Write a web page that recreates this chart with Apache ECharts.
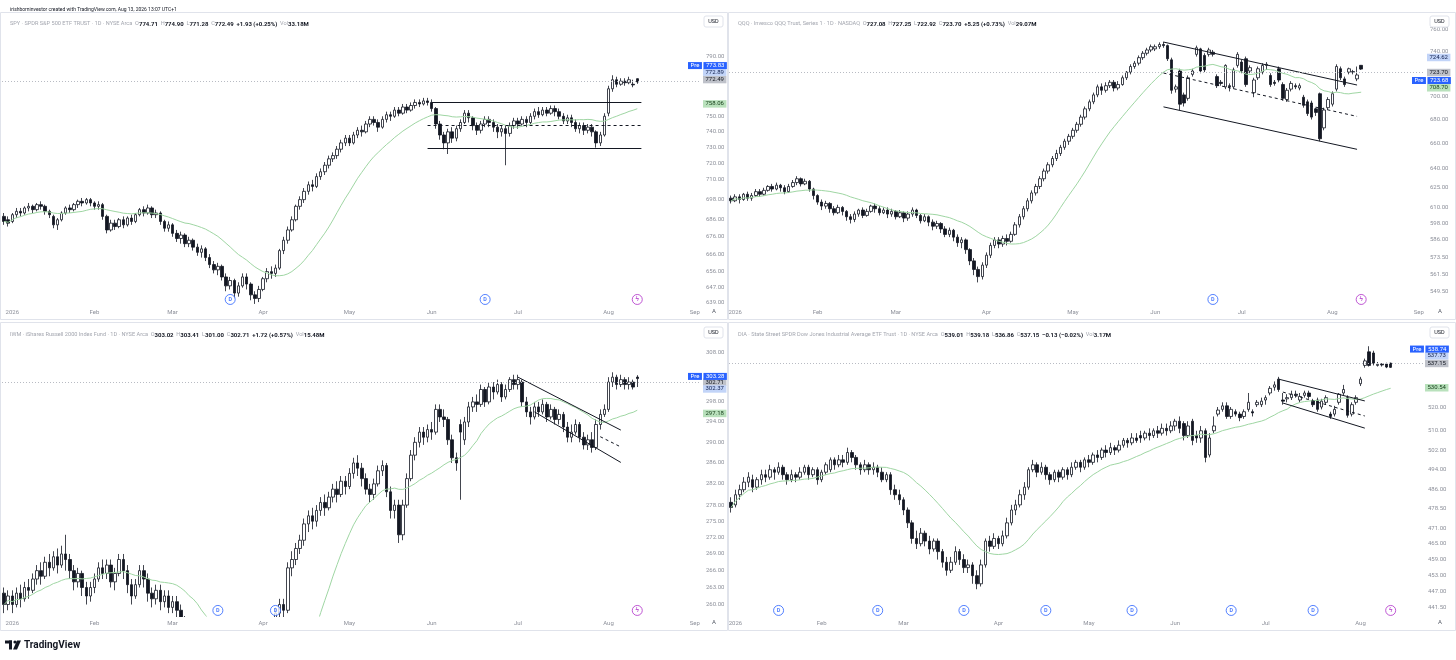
<!DOCTYPE html>
<html>
<head>
<meta charset="utf-8">
<title>SPY QQQ IWM DIA</title>
<script src="https://cdn.jsdelivr.net/npm/echarts@6/dist/echarts.min.js"></script>
<style>
html,body{margin:0;padding:0;background:#fff;}
#main{width:1456px;height:660px;}
</style>
</head>
<body>
<div id="main"></div>
<script>
// candles are [open, close, low, high], one row per trading day
var spyCandles = [
  [688,685,683,690],[686,684,682,688],
  [685,689,684,690],[689,691,687,693],[691,690,688,693],[690,693,689,694],[693,694,691,696],[694,692,690,695],[692,695,691,696],[695,694,692,697],[694,691,689,695],[691,689,687,692],
  [688,683,681,689],[683,686,680,687],[686,690,685,691],[690,693,689,694],[693,692,690,695],[692,695,691,696],[695,697,693,698],[697,696,694,699],[696,698,695,699],[698,696,694,699],
  [696,694,692,697],[694,695,692,697],[695,688,686,696],[688,680,678,689],[680,684,679,686],[684,682,680,686],[682,686,681,687],[686,683,681,688],[683,687,682,688],[687,685,683,689],
  [685,689,684,690],[689,692,688,693],[692,690,688,694],[690,693,689,695],[693,689,687,694],[689,690,687,692],[690,685,683,691],[685,681,679,686],[681,683,679,685],
  [683,678,676,684],[678,675,673,680],[675,677,672,679],[677,672,670,678],[672,674,670,676],[674,670,668,675],[670,667,665,672],[667,669,664,671],[669,664,662,670],[664,660,658,666],[660,657,655,662],
  [657,659,654,661],[659,653,651,660],[653,648,645,655],[648,651,646,653],[651,644,641,652],[644,648,642,650],[648,653,647,655],[653,649,646,655],[649,643,640,650],[643,641,638,645],[641,646,639,648],
  [646,652,645,653],[652,656,650,658],[656,655,652,659],[655,658,653,660],[658,668,657,669],[668,674,666,676],[674,680,672,682],[680,686,679,688],[686,694,685,695],[694,698,692,700],[698,703,696,705],
  [703,707,701,709],[707,706,703,710],[706,712,705,714],[712,715,710,717],[715,719,713,721],[719,723,717,725],[723,725,721,727],[725,729,723,731],[729,733,727,735],[733,736,731,738],
  [736,733,731,738],[733,738,732,740],[738,741,736,743],[741,740,737,744],[740,745,739,747],[745,748,743,750],[748,746,744,750],[746,743,740,748],[743,748,742,750],[748,751,746,753],
  [751,750,747,753],[750,754,749,756],[754,752,750,756],[752,756,751,758],[756,754,752,758],[754,757,753,759],[757,759,755,761],[759,758,756,761],[758,760,757,762],[760,759,757,762],
  [759,755,753,761],[755,745,742,756],[745,738,735,747],[738,733,729,740],[733,740,726,742],[740,736,733,743],[736,742,734,744],[742,746,740,748],[746,752,745,754],[752,749,746,754],
  [749,744,741,750],[744,741,738,746],[741,745,739,747],[745,748,743,750],[748,746,743,750],[746,743,740,748],[743,740,736,745],[740,742,737,744],[742,739,719,744],[739,744,737,746],[744,747,742,749],
  [747,745,742,749],[745,748,744,750],[748,746,743,750],[746,750,745,752],[750,753,748,755],[753,751,749,756],[751,754,750,756],[754,752,750,756],[752,755,751,757],[755,753,750,757],[753,750,748,755],
  [750,747,745,752],[747,749,745,751],[749,746,743,751],[746,742,740,748],[742,744,739,746],[744,741,738,746],[741,743,739,745],[743,740,737,745],[740,733,730,741],[733,738,731,740],[738,750,737,752],
  [752,768,750,770],[768,774,766,777],[774,771,769,776],[771,773,770,775],[773,772,770,775],[772,774,771,776],[771,770.56,769,774],[774.71,772.49,771.28,774.90]
];

var qqqCandles = [
  [617,615,613,619],
  [615,618,614,620],[618,616,613,620],[616,620,615,621],[620,617,615,622],[617,619,615,621],[619,622,618,624],[622,620,618,624],[620,623,619,625],[623,626,622,627],[626,624,622,628],
  [624,627,623,629],[627,625,622,628],[625,622,620,627],[622,626,621,628],[626,629,625,631],[629,632,627,634],[632,628,626,633],[628,630,627,632],[630,624,622,631],[624,619,616,625],
  [619,614,612,620],[614,611,608,616],[611,613,609,615],[613,609,606,614],[609,606,604,611],[606,610,605,612],[610,607,604,611],[607,603,600,608],[603,601,598,605],[601,605,599,607],
  [605,608,603,609],[608,604,602,610],[604,607,603,609],[607,611,606,612],[611,609,606,613],[609,606,604,611],[606,608,605,610],[608,605,602,610],[605,607,603,609],
  [607,603,601,608],[603,606,602,608],[606,602,599,607],[602,605,600,607],[605,608,603,610],[608,604,602,609],[604,600,598,605],[600,603,599,605],[603,599,596,604],[599,596,593,601],[596,598,594,600],
  [598,594,591,599],[594,590,588,596],[590,593,588,595],[593,588,585,594],[588,584,581,590],[584,586,580,588],[586,579,576,587],[579,571,568,580],[571,565,561,573],[565,560,556,567],[560,568,558,570],
  [568,575,566,577],[575,582,573,584],[582,586,580,588],[586,583,580,588],[583,587,581,589],[587,585,582,590],[585,590,584,592],[590,597,589,599],[597,603,595,605],[603,609,601,611],[609,615,607,617],
  [615,621,613,623],[621,626,619,628],[626,632,624,634],[632,638,630,640],[638,643,636,645],[643,648,641,650],[648,652,646,655],[652,657,650,659],[657,662,655,664],[662,666,659,668],
  [666,671,664,673],[671,676,669,678],[676,682,674,684],[682,689,680,691],[689,695,687,697],[695,701,693,703],[701,708,699,710],[708,705,701,711],[705,709,703,712],[709,712,707,714],
  [712,707,704,714],[707,710,705,713],[710,716,709,718],[716,721,714,722],[721,726,719,728],[726,729,724,731],[729,734,727,736],[734,738,732,740],[738,741,736,743],[741,744,739,746],
  [742,744,740,746],[744,746,742,748],[746,745,743,748.5],[745,733,731,746],[732,705,702,734],[706,708,703,710],[722,693,688,724],[701,694,691,703],[698,716,696,718],[719,722,717,724],
  [737,743,735,745],[742,722,720,743],[736,723,721,738],[737,741,735,743],[739,737,735,741],[717,709,707,719],[712,711,709,714],[708,727,706,728],[709,708,704,711],[708,723,706,725],[727,737,725,739],
  [730,722,720,732],[733,710,708,735],[722,725,720,727],[703,714,699,716],[716,724,714,726],[721,727,719,729],[727,728,723,730],[718,710,708,720],[712,711,709,714],[724,714,712,726],[710,698,696,712],
  [697,705,695,707],[706,711,704,713],[709,708,706,711],[707,709,705,711],[699,692,690,701],[695,685,683,697],[694,682,680,696],[689,686,683,690],[702,664,662,703],[673,688,671,690],[690,697,688,699],
  [693,702,691,704],[706,726,704,728],[724,716,714,726],[715,710,708,717],[721,724,719,725],[721,721.5,719,723],[715,718.45,713,726],[727.08,723.70,722.92,727.25]
];

var iwmCandles = [
  [262,260,258.5,263],[260,261.5,259,262.5],
  [261.5,260,258.5,262.5],[260,262,259.5,263],[262,261,259.5,263.5],[261,263,260.5,264],[263,262.5,261,264.5],[262.5,264.5,262,265.5],[264.5,266,263.5,267],[266,265,263.5,267.5],[265,267.5,264.5,268.5],[267.5,266.5,265,269],
  [266.5,268.5,266,269.5],[268.5,267,265.5,270],[267,269,266.5,270.5],[269,268,266,272.5],[268,266,264.5,269],[266,264,262.5,267],[264,265.5,263,266.5],[265.5,263,261.5,266],[263,261.5,260,264],[261.5,263,260.5,264],
  [263,264.5,262,265.5],[264.5,266.5,264,267.5],[266.5,265.5,264.5,268],[265.5,267,264.5,268],[267,264,263,268],[264,265.5,262.5,266.5],[265.5,268,265,269],[268,266,264.5,269],[266,263.5,262,267],[263.5,261.5,260,264.5],
  [261.5,263.5,261,264.5],[263.5,266,263,267],[266,264.5,263,267],[264.5,262,260.5,265.5],[262,261,259.5,263],[261,262.5,260,263.5],[262.5,260.5,259,263.5],[260.5,261.5,259.5,262.5],[261.5,259.5,258.5,262.5],
  [259.5,260.5,258.5,261.5],[260.5,259,257.5,261.5],[259,257,255.5,260],[257,254,252,258],[254,251,249,255],[251,252.5,249.5,254],[252.5,249,247,253.5],[249,246,244,250],[246,247.5,244.5,249],[247.5,244,242,248.5],[244,241,239,245],
  [241,243,239.5,244.5],[243,239,237,244],[239,236,234,240],[236,238,234.5,239.5],[238,235,233,239],[235,232,230,236],[232,235,231,236.5],[235,238,234,239.5],[238,236,234.5,239.5],[236,239,235,240.5],[239,242,238,243.5],
  [242,245,241,246.5],[245,249,244,250.5],[249,253,248,254.5],[253,258.5,252,259.5],[258.5,260,257,261],[260,259,257.5,261],[259,266.5,258.5,267.5],[266.5,268,265,269.5],[268,270,267,271],[270,271.5,269,272.5],[271.5,274.5,270.5,275.5],
  [274.5,276,273,277],[276,275,273.5,277.5],[275,277,274,278],[277,278.5,276,279.5],[278.5,277.5,276,280],[277.5,279.5,277,280.5],[279.5,281,278.5,282],[281,280,278.5,282.5],[280,282.5,279.5,283.5],[282.5,281.5,280,283.5],
  [281.5,284,281,285],[284,286,283,287],[286,285,283.5,287.5],[285,283,281.5,286],[283,281,280,284],[281,280,278.5,282],[280,282,279,283],[282,284.5,281.5,285.5],[284.5,285.5,283.5,286.5],[285.5,280.5,279.5,286],
  [280.5,277,275.5,281.5],[277,278,275.5,279],[278,272.5,271,279],[272.5,278,271.5,279],[278,283,277.5,284],[283,287.5,282.5,288.5],[287.5,290,286.5,291],[290,292,289,293],[292,291,289.5,293],[291,292.5,290,293.5],
  [292.5,292,290.5,294],[292,296.5,291.5,297.5],[296.5,295,294,297.5],[295,294.5,293,296.5],[294.5,290.5,289.5,295],[290.5,287,286,291.5],[287,286,284.5,288],[293.5,292,279,294.5],[290.5,294,289.5,295],[294,297,293,298],
  [297,298,296,299],[298,297.5,296,299.5],[297.5,300.5,297,301.5],[300.5,298,297,301],[298,301,297.5,302],[301,300,298.5,302],[300,301.5,299.5,302.5],[301.5,299,298,302],[299,300.5,298.5,301.5],[300.5,302.5,300,303],[302.5,301.5,300.5,303.5],
  [301.5,302.5,300.5,303.5],[302,298,297,302.5],[298,296,295,299],[296,295,293.5,297],[295,297,294.5,298],[297,296,295,298],[296,297.5,295.5,298.5],[297.5,295,294,298],[295,296.5,294.5,297.5],[296.5,294.5,293.5,297],[294.5,295.5,293.5,296.5],
  [295.5,293,292,296],[293,291,290,294],[291,292,290,293.5],[292,293.5,291.5,294.5],[293.5,291,290,294],[291,289.5,288.6,292],[289.5,290.5,288.5,291.5],[290.5,289,288,292],[289,293.5,288.5,294.5],[293.5,295.5,292.5,296.5],[295.5,296.5,295,297.5],
  [296.5,302,296,303],[302,303,301,304],[303,301.5,300.5,303.5],[301.5,302.5,301,303.5],[302.5,301.5,300.5,303],[301.5,302,300.5,303],[302,300.99,300.5,302.5],[303.02,302.71,301.00,303.41]
];

var diaCandles = [
  [481,479,477,483],
  [480,484,479,486],[484,486,482,488],[486,489,485,491],[489,491,487,493],[490,487,485,492],[487,490,486,491],[490,492,488,494],[492,491,489,494],[491,494,490,496],[494,493,490,495],
  [493,495,492,497],[495,492,490,496],[492,490,488,493],[490,492,489,494],[492,491,489,493],[491,493,490,495],[493,495,492,496],[495,492,490,496],[492,494,491,495],[494,490,488,495],
  [490,493,489,494],[493,496,492,497],[494,498,493,499],[498,496,494,499],[496,498,495,500],[498,497,495,500],[497,501,496,503],[501,499,497,502],[499,496,494,500],[496,494,492,497],
  [494,496,493,498],[496,494,492,497],[494,495,492,497],[495,493,491,496],[493,490,489,495],[490,492,489,493],[492,486,484,493],[486,484,482,488],[484,482,480,486],
  [482,478,476,483],[478,473,471,479],[473,467,465,474],[467,465,463,470],[465,469,464,471],[469,466,464,470],[466,463,461,468],[463,466,462,467],[466,462,459,467],[462,458,456,463],[458,455,453,460],
  [455,458,454,460],[458,462,457,464],[462,459,457,463],[459,456,454,461],[456,457,454,459],[457,453,450,458],[453,450,448,455],[450,457,449,459],[457,466,456,467],[466,464,462,468],[464,467,463,469],
  [467,465,463,468],[465,468,464,470],[468,473,467,475],[473,478,472,480],[478,480,476,482],[480,484,479,486],[484,487,482,489],[487,494,486,495],[494,496,493,498],[496,493,491,497],[493,495,492,497],
  [495,492,490,496],[492,490,488,493],[490,493,489,494],[493,491,489,494],[491,494,490,495],[494,492,490,495],[492,495,491,497],[495,497,494,498],[497,495,493,498],[495,498,494,499],
  [498,497,495,500],[497,500,496,501],[500,499,497,502],[499,502,498,503],[502,501,499,504],[501,503,500,505],[503,502,500,504],[502,504,501,506],[504,506,503,507],[506,505,503,507],
  [505,507,504,509],[507,506,505,509],[508,507,505,510],[507,509,506,510],[509,508,506,511],[508,510,507,511],[510,509,507,512],[509,511,508,513],[511,510,508,513],[510,512,509,514],
  [512,514,510,515],[514,511,509,516],[513,508,506,514],[508,512,507,514],[514,506,504,515],[508,507,505,510],[507,510,505,512],[510,499,497,511],[500,507,499,509],[510,512,509,516],
  [517,518.7,516,520],[519,520.5,518,522],[520.5,516,515,522],[516,519,515,520],[518,517,516,519],[517,515.5,514,518],[516,518,515,519],[519,522,518,526],[518,517.5,516,519],[521,522,520,523],[521,522.5,520,524],
  [523,524,521,525],[526,528,525,529],[528.5,529.5,527,531],[532,527.5,526.5,533],[523,522.5,521,526],[523.5,524,522,525.5],[524,525.5,523,527],[525.5,525,524,527],[523,524.5,522,526],[525,526,524,527],[526,524.5,523.5,527],
  [522.5,521,520,523.5],[523,519,518,524],[520,522.5,519,523.5],[522,524,521,525],[517,516,515,518],[517,519,516,520.5],[522,525.5,521,526],[526,527.5,525,529.5],[524,516.5,515.5,525],[517,521,516,522],[522,524,521,525],
  [530,532,529,533],[538,540,537,541],[544,538,537.5,546.5],[543.5,539,538,544.5],[538,538.5,537.5,539.5],[538.5,538.2,537.5,539],[538.6,537.28,536.8,539.2],[539.01,537.15,536.86,539.18]
];

// price scale ticks shown on each panel
var spyTicks = [790, 750, 740, 730, 720, 710, 698, 686, 676, 666, 656, 647, 639];
var qqqTicks = [760, 740, 700, 680, 660, 640, 625, 610, 598, 586, 573.5, 561.5, 549.5];
var iwmTicks = [308, 298, 294, 290, 286, 282, 278, 275, 272, 269, 266, 263, 260];
var diaTicks = [520, 510, 502, 494, 486, 478.5, 471, 465, 459, 453, 447, 441.5];

// price scale tags: moving average, last close, post-market, pre-market
var spyTags = {ma: 758.06, last: 772.49, post: 772.89, pre: 773.83};
var qqqTags = {ma: 708.70, last: 723.70, post: 724.62, pre: 723.68};
var iwmTags = {ma: 297.18, last: 302.71, post: 302.37, pre: 303.28};
var diaTags = {ma: 530.54, last: 537.15, post: 537.73, pre: 538.74};

// drawn lines [barIndex1, price1, barIndex2, price2]
var spyLines = [[104, 759.3, 155, 759.3], [103, 729.8, 155, 729.8]];
var spyMids = [[103, 744.5, 155, 744.5]];
var qqqLines = [[105, 748.3, 152, 709.6], [105, 690.7, 152, 655.4]];
var qqqMids = [[105, 720.2, 152, 682.6]];
var iwmLines = [[125, 303.0, 150, 292.4], [129, 296.0, 150, 286.1]];
var iwmMids = [[145, 291.1, 150, 289.1]];
var diaLines = [[127, 532.0, 147, 522.6], [128, 521.7, 147, 511.1]];
var diaMids = [[128, 526.4, 147, 516.2]];

// event markers (bar index)
var spyDivs = [55, 117];   var spyFlash = [154];
var qqqDivs = [117];       var qqqFlash = [153];
var iwmDivs = [52, 66];    var iwmFlash = [154];
var diaDivs = [11, 34, 54, 73, 93, 116, 135]; var diaFlash = [153];

var spyHeader = ['SPY · SPDR S&P 500 ETF TRUST · 1D · NYSE Arca', '774.71', '774.90', '771.28', '772.49', '+1.93 (+0.25%)', '33.18M'];
var qqqHeader = ['QQQ · Invesco QQQ Trust, Series 1 · 1D · NASDAQ', '727.08', '727.25', '722.92', '723.70', '+5.25 (+0.73%)', '29.07M'];
var iwmHeader = ['IWM · iShares Russell 2000 Index Fund · 1D · NYSE Arca', '303.02', '303.41', '301.00', '302.71', '+1.72 (+0.57%)', '15.48M'];
var diaHeader = ['DIA · State Street SPDR Dow Jones Industrial Average ETF Trust · 1D · NYSE Arca', '539.01', '539.18', '536.86', '537.15', '−0.13 (−0.02%)', '3.17M'];

var holidays = ['2026-01-01','2026-01-19','2026-02-16','2026-04-03','2026-05-25','2026-06-19','2026-07-03','2026-09-07'];
var monthNames = ['2026','Feb','Mar','Apr','May','Jun','Jul','Aug','Sep','Oct','Nov','Dec'];

function tradingDays(start, count){
  var out = [];
  var d = new Date(start + 'T12:00:00Z');
  while(out.length < count){
    var wd = d.getUTCDay();
    var s = d.toISOString().slice(0, 10);
    if(wd !== 0 && wd !== 6 && holidays.indexOf(s) < 0){
      out.push(s);
    }
    d.setUTCDate(d.getUTCDate() + 1);
  }
  return out;
}

function sma(rows, n){
  var out = [];
  for(var i = 0; i < rows.length; i++){
    var s = 0, k = 0;
    for(var j = Math.max(0, i - n + 1); j <= i; j++){ s += rows[j][1]; k++; }
    out.push(Math.log(s / k));
  }
  return out;
}

var ln = Math.log;
var axisGrey = '#8d909a';
var font = 'Roboto, "Liberation Sans", sans-serif';
var tagStyle = {
  pre:  {bg:'#2962ff', fg:'#ffffff'},
  post: {bg:'#c2d4f8', fg:'#0f1f4d'},
  last: {bg:'#bfc2ca', fg:'#131722'},
  ma:   {bg:'#b9e1bc', fg:'#143d18'}
};
var tagPad = [0.5, 2.5, 0.5, 2.5];

// slot (px) where each price tag sits once stacked on the price scale
var panels = [
  {candles: spyCandles, ticks: spyTicks, tags: spyTags, lines: spyLines, mids: spyMids, divs: spyDivs, flash: spyFlash, header: spyHeader,
   start: '2025-12-30', slots: 170, range: [637.4, 809.3],
   grid: {left: 2, top: 28, width: 699, height: 277}, head: [5, 16],
   tagY: {pre: 64, post: 72, last: 80, ma: 103}},
  {candles: qqqCandles, ticks: qqqTicks, tags: qqqTags, lines: qqqLines, mids: qqqMids, divs: qqqDivs, flash: qqqFlash, header: qqqHeader,
   start: '2025-12-31', slots: 169, range: [540.7, 761.4],
   grid: {left: 729, top: 28, width: 696, height: 277}, head: [733, 16],
   tagY: {post: 61, last: 69, pre: 77, ma: 85}},
  {candles: iwmCandles, ticks: iwmTicks, tags: iwmTags, lines: iwmLines, mids: iwmMids, divs: iwmDivs, flash: iwmFlash, header: iwmHeader,
   start: '2025-12-30', slots: 170, range: [258.0, 311.1],
   grid: {left: 2, top: 338, width: 699, height: 278}, head: [5, 327],
   tagY: {pre: 369.5, last: 378, post: 386.5, ma: 407}},
  {candles: diaCandles, ticks: diaTicks, tags: diaTags, lines: diaLines, mids: diaMids, divs: diaDivs, flash: diaFlash, header: diaHeader,
   start: '2025-12-31', slots: 161, range: [438.3, 550.2],
   grid: {left: 729, top: 338, width: 694, height: 278}, head: [733, 327],
   tagY: {pre: 350, post: 359, last: 368, ma: 383}}
];

function buildOption(pixelOf){
  var grids = [], xAxes = [], yAxes = [], series = [], titles = [];

  titles.push({
    text: 'irishborninvestor created with TradingView.com, Aug 13, 2026 13:07 UTC+1',
    left: 5, top: 2,
    textStyle: {fontSize: 5.0, color: '#131722', fontWeight: 'normal', fontFamily: font}
  });

  panels.forEach(function(p, k){
    var dates = tradingDays(p.start, p.slots);
    var monthStart = dates.map(function(d, i){
      return i > 0 && d.slice(5, 7) !== dates[i - 1].slice(5, 7);
    });

    grids.push(p.grid);

    xAxes.push({
      type: 'category', gridIndex: k, data: dates, boundaryGap: true, z: 10,
      axisLine: {show: false}, axisTick: {show: false}, splitLine: {show: false},
      axisLabel: {
        color: axisGrey, fontSize: 6, fontFamily: font, margin: 4,
        interval: function(i){ return monthStart[i]; },
        formatter: function(v){ return monthNames[parseInt(v.slice(5, 7), 10) - 1]; }
      }
    });

    yAxes.push({
      type: 'value', gridIndex: k, position: 'right',
      min: ln(p.range[0]), max: ln(p.range[1]),
      axisLine: {show: false}, axisTick: {show: false}, splitLine: {show: false},
      axisLabel: {
        customValues: p.ticks.map(ln), color: axisGrey, fontSize: 6, fontFamily: font, margin: 5,
        formatter: function(v){ return Math.exp(v).toFixed(2); }
      }
    });
    yAxes.push({type: 'value', gridIndex: k, min: 0, max: 1, show: false});

    var marks = [];
    p.lines.forEach(function(l){
      marks.push([{coord: [l[0], ln(l[1])], lineStyle: {color: '#131722', width: 1, type: 'solid'}}, {coord: [l[2], ln(l[3])]}]);
    });
    p.mids.forEach(function(l){
      marks.push([{coord: [l[0], ln(l[1])], lineStyle: {color: '#131722', width: 1, type: [3, 3]}}, {coord: [l[2], ln(l[3])]}]);
    });
    Object.keys(p.tags).forEach(function(key){
      var v = p.tags[key], st = tagStyle[key];
      var dy = pixelOf ? p.tagY[key] - pixelOf(k, v) : 0;
      if(!isFinite(dy)) dy = 0;
      var item = {
        yAxis: ln(v),
        lineStyle: key === 'pre' ? {color: '#b8bbc3', width: 1, type: [1, 2]} : {color: 'rgba(0,0,0,0)', width: 0.1},
        label: {
          show: true, position: 'end', distance: 2, opacity: 1,
          offset: [key === 'pre' ? -15 : 0, dy],
          fontSize: 6, lineHeight: 6.5, fontFamily: font, color: st.fg
        }
      };
      if(key === 'pre'){
        item.label.formatter = '{p|Pre}{s| }{v|' + v.toFixed(2) + '}';
        item.label.rich = {
          p: {backgroundColor: st.bg, color: st.fg, padding: tagPad, fontSize: 6, lineHeight: 6.5, fontFamily: font},
          s: {fontSize: 6, lineHeight: 6.5, width: 1.5},
          v: {backgroundColor: st.bg, color: st.fg, padding: tagPad, fontSize: 6, lineHeight: 6.5, fontFamily: font}
        };
      } else {
        item.label.formatter = v.toFixed(2);
        item.label.backgroundColor = st.bg;
        item.label.padding = tagPad;
      }
      marks.push(item);
    });

    series.push({
      type: 'candlestick', xAxisIndex: k, yAxisIndex: 2 * k,
      data: p.candles.map(function(r){ return r.map(ln); }),
      barWidth: 3, clip: true,
      itemStyle: {color: '#ffffff', color0: '#131722', borderColor: '#131722', borderColor0: '#131722', borderWidth: 0.8},
      markLine: {silent: true, symbol: ['none', 'none'], animation: false, label: {show: false}, data: marks}
    });

    series.push({
      type: 'line', xAxisIndex: k, yAxisIndex: 2 * k,
      data: sma(p.candles, 20), showSymbol: false, clip: true, silent: true,
      lineStyle: {color: '#9fd6a3', width: 1}
    });

    var ev = [];
    p.divs.forEach(function(i){ ev.push({value: [i, 0.02], kind: 'D'}); });
    p.flash.forEach(function(i){ ev.push({value: [i, 0.02], kind: 'F'}); });
    series.push({
      type: 'scatter', xAxisIndex: k, yAxisIndex: 2 * k + 1, silent: true, z: 6,
      symbol: 'circle', symbolSize: 10,
      data: ev.map(function(e){
        var c = e.kind === 'D' ? '#2962ff' : '#b02fc9';
        return {
          value: e.value,
          itemStyle: {color: '#ffffff', borderColor: c, borderWidth: 1},
          label: {show: true, position: 'inside', formatter: e.kind === 'D' ? 'D' : 'ϟ', color: c, fontSize: e.kind === 'D' ? 5.5 : 6.5, fontWeight: 'bold', fontFamily: font}
        };
      })
    });

    var h = p.header;
    titles.push({
      text: '{g|' + h[0] + '}  {g|O}{v|' + h[1] + '}  {g|H}{v|' + h[2] + '}  {g|L}{v|' + h[3] + '}  {g|C}{v|' + h[4] + '}  {v|' + h[5] + '}  {g|Vol}{v|' + h[6] + '}',
      left: p.head[0], top: p.head[1],
      textStyle: {
        fontSize: 5.6, fontFamily: font, color: '#a3a6af', fontWeight: 'normal',
        rich: {
          g: {fontSize: 5.6, color: '#a3a6af', fontFamily: font},
          v: {fontSize: 6, color: '#131722', fontFamily: font, fontWeight: 'bold'}
        }
      }
    });
  });

  // cover strips under the plots, panel frames, currency boxes and footer
  var graphic = [];
  [[1, 306, 700, 12], [729, 306, 697, 12], [1, 617, 700, 43], [729, 617, 695, 12]].forEach(function(r){
    graphic.push({type: 'rect', z: 5, shape: {x: r[0], y: r[1], width: r[2], height: r[3]}, style: {fill: '#ffffff'}, silent: true});
  });
  [[0.5, 12.5, 727, 307], [728.5, 12.5, 727, 307], [0.5, 322.5, 727, 308], [728.5, 322.5, 727, 308]].forEach(function(r){
    graphic.push({type: 'rect', z: 5, shape: {x: r[0], y: r[1], width: r[2], height: r[3]}, style: {fill: 'none', stroke: '#e0e3eb', lineWidth: 1}, silent: true});
  });
  [[704, 16], [1430, 16], [704, 327], [1430, 327]].forEach(function(b){
    graphic.push({type: 'rect', z: 5, shape: {x: b[0], y: b[1], width: 19, height: 11, r: 2}, style: {fill: '#fff', stroke: '#e0e3eb', lineWidth: 1}, silent: true});
    graphic.push({type: 'text', z: 6, x: b[0] + 9.5, y: b[1] + 5.5, style: {text: 'USD', fill: '#131722', font: '5.5px Roboto', align: 'center', verticalAlign: 'middle'}, silent: true});
  });
  [[714, 311], [1440, 311], [714, 622], [1440, 622]].forEach(function(a){
    graphic.push({type: 'text', z: 6, x: a[0], y: a[1], style: {text: 'A', fill: '#555a66', font: '6px Roboto', align: 'center', verticalAlign: 'middle'}, silent: true});
  });
  graphic.push({type: 'rect', z: 7, shape: {x: 5, y: 640.5, width: 7, height: 3}, style: {fill: '#131722'}, silent: true});
  graphic.push({type: 'rect', z: 7, shape: {x: 9, y: 640.5, width: 3, height: 9}, style: {fill: '#131722'}, silent: true});
  graphic.push({type: 'circle', z: 7, shape: {cx: 15, cy: 642, r: 1.6}, style: {fill: '#131722'}, silent: true});
  graphic.push({type: 'polygon', z: 7, shape: {points: [[13, 649.5], [17, 640.5], [21, 640.5], [17, 649.5]]}, style: {fill: '#131722'}, silent: true});
  graphic.push({type: 'text', z: 7, x: 24, y: 645.5, style: {text: 'TradingView', fill: '#131722', font: 'bold 10px Roboto', verticalAlign: 'middle'}, silent: true});

  return {
    backgroundColor: '#ffffff',
    animation: false,
    title: titles,
    grid: grids,
    xAxis: xAxes,
    yAxis: yAxes,
    series: series,
    graphic: graphic
  };
}

var chart = echarts.init(document.getElementById('main'));
chart.setOption(buildOption(null));
// second pass: stack the price tags at their slots using the real scale
chart.setOption(buildOption(function(k, v){
  return chart.convertToPixel({yAxisIndex: 2 * k}, ln(v));
}), true);
</script>
</body>
</html>
